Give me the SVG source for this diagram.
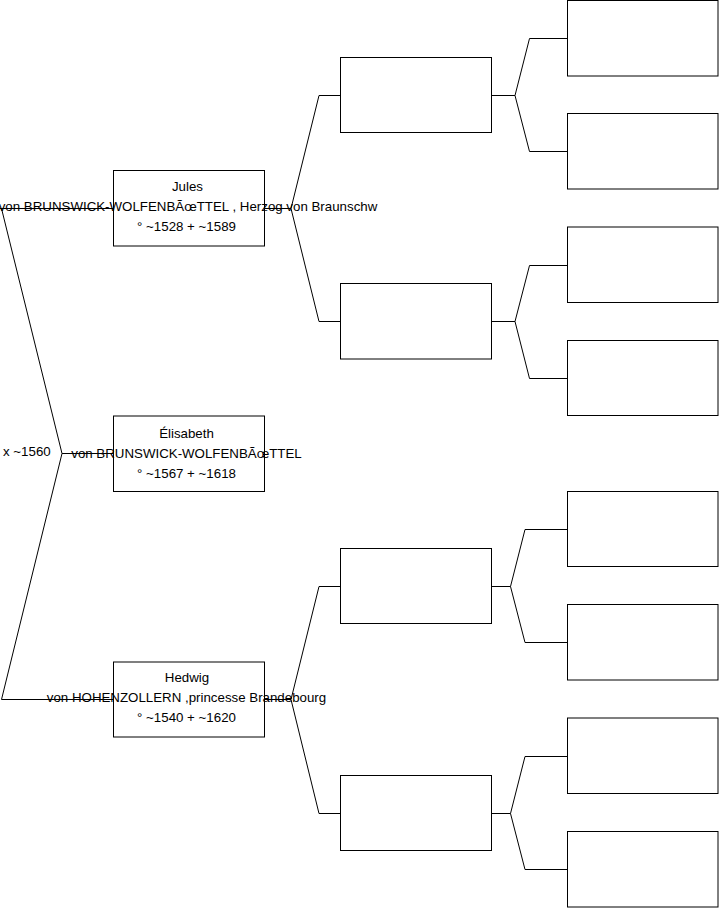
<svg xmlns="http://www.w3.org/2000/svg" width="719" height="908" viewBox="0 0 719 908">
<style>
.box{fill:#fff;stroke:#000;stroke-width:1}
.ln{fill:none;stroke:#000;stroke-width:1}
text{font-family:"Liberation Sans",Arial,sans-serif;font-size:13.3px;fill:#000}
.c{text-anchor:middle}
</style>
<rect width="719" height="908" fill="#fff"/>
<g id="connectors">
<path class="ln" d="M0,208.5 L113.5,208.5 M1.5,208.5 L62,453.5 L1.5,699.5 L113.5,699.5 M62,453.5 L113.5,453.5"/>
<path class="ln" d="M264.5,208.5 L291,208.5 L319,95.5 L340.5,95.5 M291,208.5 L319,321.5 L340.5,321.5"/>
<path class="ln" d="M264.5,699.5 L291,699.5 L319,586.5 L340.5,586.5 M291,699.5 L319,813.5 L340.5,813.5"/>
<path class="ln" d="M491.5,95.5 L515,95.5 L529.5,38.5 L567.5,38.5 M515,95.5 L529.5,151.5 L567.5,151.5"/>
<path class="ln" d="M491.5,321.5 L515,321.5 L529.5,265.5 L567.5,265.5 M515,321.5 L529.5,378.5 L567.5,378.5"/>
<path class="ln" d="M491.5,586.5 L510.5,586.5 L525,529.5 L567.5,529.5 M510.5,586.5 L525,642.5 L567.5,642.5"/>
<path class="ln" d="M491.5,813.5 L510.5,813.5 L525,756.5 L567.5,756.5 M510.5,813.5 L525,869.5 L567.5,869.5"/>
</g>
<g id="node-jules">
<rect class="box" x="113.5" y="170.5" width="151" height="75.5"/>
<text class="c" x="187.5" y="190.5">Jules</text>
<text class="c" x="188" y="210.5">von BRUNSWICK-WOLFENB&#xC3;&#x153;TTEL , Herzog von Braunschw</text>
<text class="c" x="186.5" y="230.5">° ~1528 + ~1589</text>
</g>
<g id="node-elisabeth">
<rect class="box" x="113.5" y="416" width="151" height="75.5"/>
<text class="c" x="186.5" y="437.5">Élisabeth</text>
<text class="c" x="186.5" y="457.5">von BRUNSWICK-WOLFENB&#xC3;&#x153;TTEL</text>
<text class="c" x="186.5" y="477.5">° ~1567 + ~1618</text>
</g>
<g id="marriage">
<text x="3" y="455.5">x ~1560</text>
</g>
<g id="node-hedwig">
<rect class="box" x="113.5" y="662" width="151" height="75"/>
<text class="c" x="187" y="681.5">Hedwig</text>
<text class="c" x="186.5" y="701.5">von HOHENZOLLERN ,princesse Brandebourg</text>
<text class="c" x="186.5" y="721.5">° ~1540 + ~1620</text>
</g>
<g id="node-g2-1"><rect class="box" x="340.5" y="57.5" width="151" height="75"/></g>
<g id="node-g2-2"><rect class="box" x="340.5" y="283.5" width="151" height="75.5"/></g>
<g id="node-g2-3"><rect class="box" x="340.5" y="548.5" width="151" height="75"/></g>
<g id="node-g2-4"><rect class="box" x="340.5" y="775.5" width="151" height="75"/></g>
<g id="node-g3-1"><rect class="box" x="567.5" y="0.5" width="150.5" height="75.5"/></g>
<g id="node-g3-2"><rect class="box" x="567.5" y="113.5" width="150.5" height="75.5"/></g>
<g id="node-g3-3"><rect class="box" x="567.5" y="227" width="150.5" height="75.5"/></g>
<g id="node-g3-4"><rect class="box" x="567.5" y="340.5" width="150.5" height="75"/></g>
<g id="node-g3-5"><rect class="box" x="567.5" y="491.5" width="150.5" height="75"/></g>
<g id="node-g3-6"><rect class="box" x="567.5" y="604.5" width="150.5" height="75.5"/></g>
<g id="node-g3-7"><rect class="box" x="567.5" y="718" width="150.5" height="75.5"/></g>
<g id="node-g3-8"><rect class="box" x="567.5" y="831.5" width="150.5" height="75.5"/></g>
</svg>
